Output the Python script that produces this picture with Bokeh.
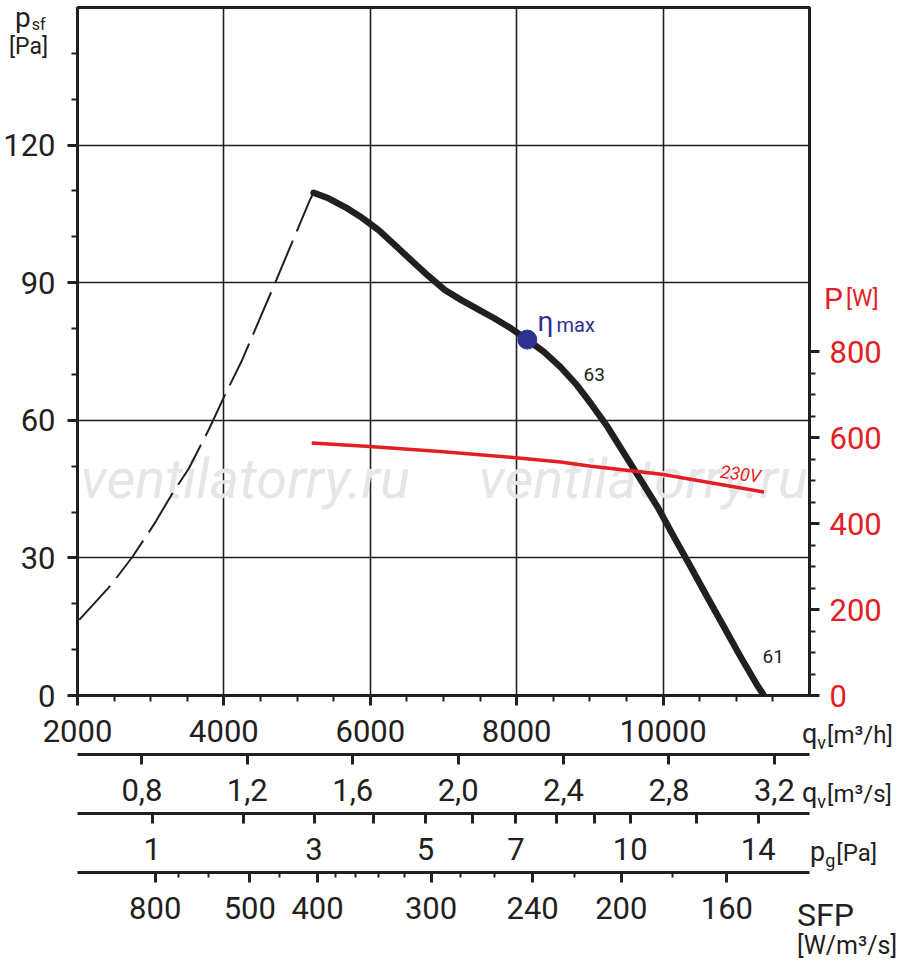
from bokeh.plotting import figure
from bokeh.models import Range1d, LinearAxis, FixedTicker, Label, Div
from bokeh.layouts import column
from bokeh.embed import file_html
from bokeh.resources import INLINE

# fan curve: static pressure [Pa] against airflow [m3/h]
q_stall = [2023, 2454, 2749, 3045, 3294, 3521, 3794, 3999, 4248, 4698, 5174, 5225]
p_stall = [16.5, 24.0, 30.2, 37.3, 44.0, 49.5, 58.0, 65.0, 73.1, 89.9, 108.0, 109.6]

q_fan = [5225, 5429, 5655, 5883, 6110, 6337, 6564, 6791, 7018, 7245, 7473, 7699,
         7926, 8144, 8372, 8599, 8826, 9016, 9244, 9470, 9698, 9925, 10151, 10379,
         10606, 10833, 11060, 11287, 11378]
p_fan = [109.6, 108.4, 106.5, 104.2, 101.5, 98.2, 94.8, 91.5, 88.4, 86.2, 84.2, 82.2,
         80.0, 77.6, 74.9, 71.6, 67.6, 63.6, 58.5, 52.7, 46.9, 41.1, 34.5, 28.0,
         21.4, 14.9, 8.4, 2.2, 0.0]

# power input [W], 230V
q_pow = [5200, 5991, 7000, 7986, 8599, 9016, 9592, 10001, 11378]
p_pow = [587, 579, 567, 553, 543, 533, 522, 514, 473]

eta_q = [8144]
eta_p = [77.6]

# tick labels of the scales under the chart
q_major = [2000, 4000, 6000, 8000, 10000]
qs_ticks = [0.8, 1.2, 1.6, 2.0, 2.4, 2.8, 3.2]          # m3/s
pg_labeled = [1, 3, 5, 7, 10, 14]                        # Pa
pg_minor = [2, 4, 6, 8, 9, 12]
pg_q1 = 3020                                             # m3/h at pg = 1 Pa
sfp_labels = [800, 500, 400, 300, 240, 200, 160]
sfp_pos = [3061, 4354, 5279, 6830, 8218, 9429, 10871]    # m3/h
sfp_minor_pos = [3374, 3796, 4762, 5524, 5796, 6109, 6463, 7238, 7701, 8789, 10122]

FONT = "Roboto"
INK = "#231f20"
RED = "#e31e24"
BLUE = "#2e3192"
TICK_SIZE = "31px"

p = figure(width=898, height=962, x_range=Range1d(2000, 12000), y_range=Range1d(0, 150),
           output_backend="svg", toolbar_location=None,
           min_border_left=75, min_border_right=89, min_border_top=7, min_border_bottom=267)
p.background_fill_color = "white"
p.border_fill_color = "white"
p.outline_line_color = INK
p.outline_line_width = 3


def style_axis(ax, color=INK):
    ax.axis_line_color = INK
    ax.axis_line_width = 3
    ax.major_tick_line_color = INK
    ax.major_tick_line_width = 3
    ax.minor_tick_line_color = INK
    ax.minor_tick_line_width = 2
    ax.major_tick_in = 0
    ax.minor_tick_in = 0
    ax.major_tick_out = 10
    ax.minor_tick_out = 6
    ax.major_label_text_font = FONT
    ax.major_label_text_font_size = TICK_SIZE
    ax.major_label_text_color = color


def spacer(ax):
    # keeps the scales under the chart 60px apart
    ax.major_label_standoff = 14
    ax.axis_label = " "
    ax.axis_label_text_font_size = "2px"
    ax.axis_label_standoff = 5


# left axis
ya = p.yaxis[0]
ya.ticker = FixedTicker(ticks=[0, 30, 60, 90, 120],
                        minor_ticks=[v for v in range(10, 150, 10) if v % 30])
style_axis(ya)
ya.major_label_standoff = 12

# q [m3/h]
xa = p.xaxis[0]
xa.ticker = FixedTicker(ticks=q_major, minor_ticks=[v for v in range(2500, 12000, 500) if v % 2000])
style_axis(xa)
spacer(xa)

# q [m3/s]
ax2 = LinearAxis(ticker=FixedTicker(ticks=[round(v * 3600) for v in qs_ticks], minor_ticks=[]),
                 major_label_overrides={round(v * 3600): ("%.1f" % v).replace(".", ",") for v in qs_ticks})
style_axis(ax2)
spacer(ax2)
p.add_layout(ax2, "below")

# pg [Pa]
ax3 = LinearAxis(ticker=FixedTicker(ticks=[round(pg_q1 * v ** 0.5) for v in pg_labeled],
                                    minor_ticks=[round(pg_q1 * v ** 0.5) for v in pg_minor]),
                 major_label_overrides={round(pg_q1 * v ** 0.5): str(v) for v in pg_labeled})
style_axis(ax3)
spacer(ax3)
ax3.minor_tick_out = 10
ax3.minor_tick_line_width = 3
p.add_layout(ax3, "below")

# SFP
ax4 = LinearAxis(ticker=FixedTicker(ticks=sfp_pos, minor_ticks=sfp_minor_pos),
                 major_label_overrides={q: str(v) for q, v in zip(sfp_pos, sfp_labels)})
style_axis(ax4)
ax4.minor_tick_out = 5
ax4.major_label_standoff = 14
p.add_layout(ax4, "below")

# right axis P [W]
p.extra_y_ranges = {"pw": Range1d(0, 1600)}
ra = LinearAxis(y_range_name="pw",
                ticker=FixedTicker(ticks=[0, 200, 400, 600, 800],
                                   minor_ticks=[v for v in range(50, 800, 50) if v % 200]))
style_axis(ra, color=RED)
ra.axis_line_width = 2
ra.major_label_standoff = 10
p.add_layout(ra, "right")

p.xgrid.ticker = FixedTicker(ticks=q_major)
p.ygrid.ticker = FixedTicker(ticks=[30, 60, 90, 120])
for g in (p.xgrid[0], p.ygrid[0]):
    g.grid_line_color = INK
    g.grid_line_width = 1.6


def txt(x, y, s, size, color=INK, style="normal", angle=0.0, level="annotation"):
    # x: left edge, y: text baseline, both canvas pixels from the top-left corner
    p.add_layout(Label(x=x, y=y - 0.34 * size, x_units="canvas", y_units="canvas", text=s,
                       text_font=FONT, text_font_size="%dpx" % size, text_color=color,
                       text_align="left", text_baseline="middle",
                       text_font_style=style, angle=angle, level=level))


# watermark
for wx in (80, 478):
    txt(wx, 498, "ventilatorry.ru", 56, "#e6e6e6", style="italic", level="underlay")

# curves
p.line(q_stall, p_stall, line_color=INK, line_width=2, line_dash="46 10")
p.line(q_fan, p_fan, line_color=INK, line_width=6.5, line_cap="round", line_join="round")
p.line(q_pow, p_pow, y_range_name="pw", line_color=RED, line_width=3.5)
p.scatter(eta_q, eta_p, size=19, fill_color=BLUE, line_color=BLUE)

# in-plot annotations
txt(537, 331, "\u03b7", 28, BLUE)
txt(556, 331, "max", 20, BLUE)
txt(583, 380, "63", 19)
txt(762, 662, "61", 19)
txt(720, 477, "230V", 18, RED, style="italic", angle=-0.12)


# axis titles, outside the frame: pieces are (text, font px, baseline shift px, gap px)
def title(x, baseline, pieces, color=INK):
    big = max(pc[1] for pc in pieces)
    html = "".join(
        '<span style="font-size:%dpx;position:relative;top:%dpx;margin-left:%dpx">%s</span>'
        % (s, d, g, t) for t, s, d, g in pieces)
    return Div(text=html, styles={
        "position": "absolute", "left": "%dpx" % x,
        "top": "%.1fpx" % (baseline + 3 - 0.842 * big),
        "font-family": FONT, "font-size": "%dpx" % big, "line-height": "1",
        "color": color, "white-space": "nowrap", "margin": "0", "padding": "0"})


titles = [
    title(15, 25, [("p", 28, 0, 0), ("sf", 16, 3, 1)]),
    title(9, 51, [("[Pa]", 23, 0, 0)]),
    title(824, 306, [("P", 30, 0, 0), ("[W]", 23, -3, 3)], RED),
    title(802, 741, [("q", 27, 0, 0), ("v", 18, 6, 0), ("[m\u00b3/h]", 24, 0, 1)]),
    title(802, 800, [("q", 27, 0, 0), ("v", 18, 6, 0), ("[m\u00b3/s]", 24, 0, 1)]),
    title(810, 859, [("p", 27, 0, 0), ("g", 18, 6, 0), ("[Pa]", 24, 0, 1)]),
    title(797, 923, [("SFP", 32, 0, 0)]),
    title(797, 951, [("[W/m\u00b3/s]", 25, 0, 0)]),
]

page = column(p, *titles)
open("out.html", "w").write(file_html(page, INLINE))
